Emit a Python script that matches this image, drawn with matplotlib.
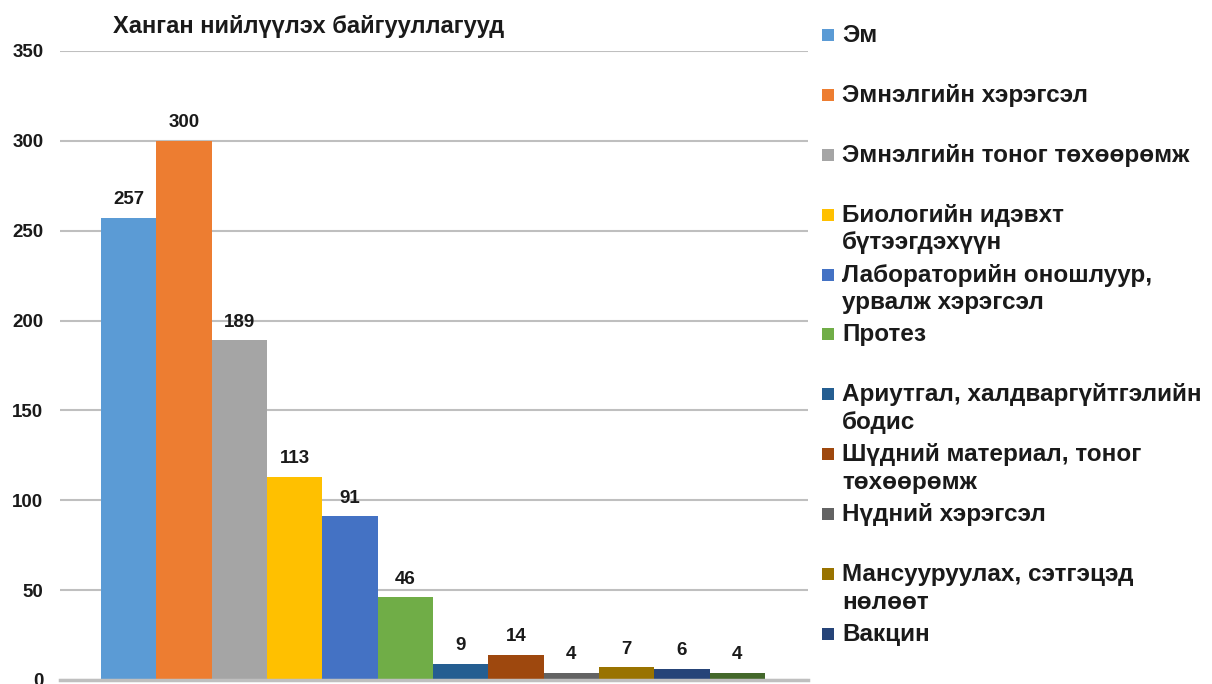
import matplotlib
matplotlib.use("Agg")
import matplotlib.pyplot as plt
from matplotlib.patches import Rectangle

plt.rcParams['font.family'] = ['Liberation Sans', 'DejaVu Sans']
plt.rcParams['font.weight'] = 'bold'

title = "Ханган нийлүүлэх байгууллагууд"

categories = [
    "Эм",
    "Эмнэлгийн хэрэгсэл",
    "Эмнэлгийн тоног төхөөрөмж",
    "Биологийн идэвхт\nбүтээгдэхүүн",
    "Лабораторийн оношлуур,\nурвалж хэрэгсэл",
    "Протез",
    "Ариутгал, халдваргүйтгэлийн\nбодис",
    "Шүдний материал, тоног\nтөхөөрөмж",
    "Нүдний хэрэгсэл",
    "Мансууруулах, сэтгэцэд\nнөлөөт",
    "Вакцин",
    "",
]
values = [257, 300, 189, 113, 91, 46, 9, 14, 4, 7, 6, 4]
colors = ["#5B9BD5", "#ED7D31", "#A5A5A5", "#FFC000", "#4472C4", "#70AD47",
          "#255E91", "#9E480E", "#636363", "#997300", "#264478", "#43682B"]
yticks = [0, 50, 100, 150, 200, 250, 300, 350]

W, H = 1212, 684
fig = plt.figure(figsize=(W / 100, H / 100), dpi=100)
fig.patch.set_facecolor("white")

ax = fig.add_axes([60 / W, 4 / H, 748 / W, 629 / H])
ax.set_facecolor("none")

x = list(range(len(values)))
bars = ax.bar(x, values, width=1.0, color=colors, zorder=3)
for xi, v in zip(x, values):
    ax.annotate(str(v), (xi, v), xytext=(0, 7), textcoords="offset points",
                ha="center", va="bottom", fontsize=13.5, fontweight="bold",
                color="#1a1a1a")

ax.set_xlim(-1.24, 12.28)
ax.set_ylim(0, 350)
ax.set_yticks(yticks)
ax.set_yticklabels([str(t) for t in yticks], fontsize=13.5, fontweight="bold",
                   color="#1a1a1a")
ax.tick_params(axis="y", length=0, pad=12)
ax.set_xticks([])
for s in ["top", "right", "left"]:
    ax.spines[s].set_visible(False)
ax.spines["bottom"].set_color("#BFBFBF")
ax.spines["bottom"].set_linewidth(2.5)
ax.spines["bottom"].set_zorder(4)
ax.yaxis.grid(True, color="#BFBFBF", linewidth=1.5, zorder=0)

fig.text(113 / W, 1 - 27 / H, title, ha="left", va="center",
         fontsize=17, fontweight="bold", color="#1a1a1a")

# legend drawn by hand: square aligned with the first line of each entry
y0, step = 35, 59.9
for i, (lab, c) in enumerate(zip(categories[:11], colors[:11])):
    yc = y0 + i * step
    fig.patches.append(Rectangle((822 / W, 1 - (yc + 6) / H), 12 / W, 12 / H,
                                 transform=fig.transFigure, facecolor=c,
                                 edgecolor="none", figure=fig))
    fig.text(842 / W, 1 - (yc - 11) / H, lab, ha="left", va="top",
             fontsize=17.5, fontweight="bold", color="#1a1a1a",
             linespacing=1.25)

fig.savefig("out.png", dpi=100)
